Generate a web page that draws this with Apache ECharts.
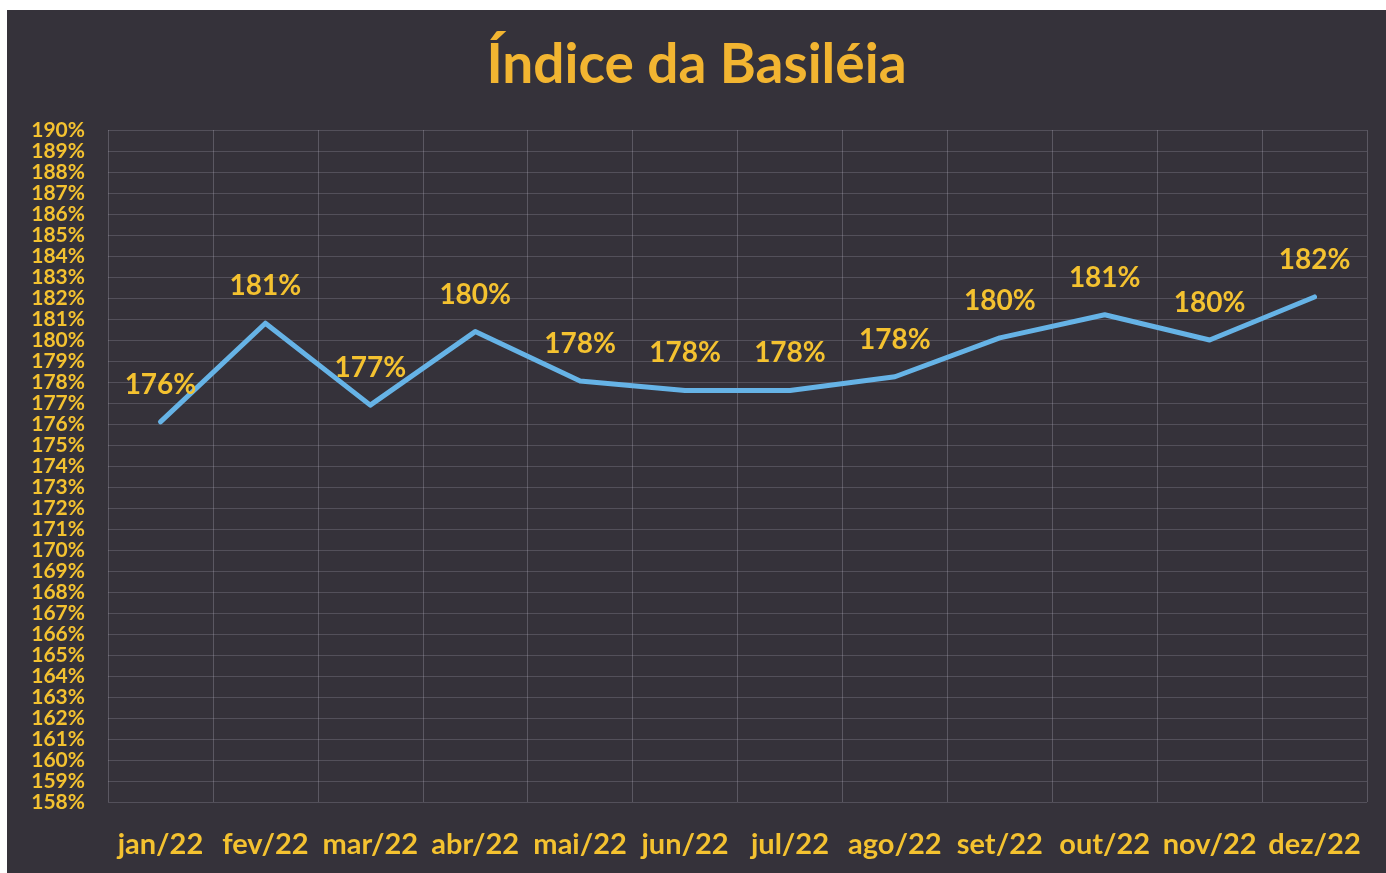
<!DOCTYPE html>
<html>
<head>
<meta charset="utf-8">
<script src="https://cdn.jsdelivr.net/npm/echarts@6/dist/echarts.min.js"></script>
<style>
html,body{margin:0;padding:0;background:#ffffff;}
#wrap{position:absolute;left:7px;top:10px;width:1379px;height:863px;background:#35323a;}
#chart{width:1379px;height:863px;}
</style>
</head>
<body>
<div id="wrap"><div id="chart"></div></div>
<script>
const titleText = 'Índice da Basiléia';
const categories = ['jan/22','fev/22','mar/22','abr/22','mai/22','jun/22','jul/22','ago/22','set/22','out/22','nov/22','dez/22'];
const values = [176.1, 180.8, 176.9, 180.4, 178.05, 177.6, 177.6, 178.25, 180.1, 181.2, 180.0, 182.05];
const yMin = 158, yMax = 190, yStep = 1;

const gold = '#f4c230';
const chart = echarts.init(document.getElementById('chart'), null, {renderer:'canvas'});
chart.setOption({
  backgroundColor: 'transparent',
  animation: false,
  title: {
    text: titleText, left: 'center', top: 23,
    textStyle: {color: '#f2b531', fontSize: 55, fontWeight: 'bold', fontFamily: 'Lato'}
  },
  grid: {left: 101, right: 19, top: 120, bottom: 71},
  xAxis: {
    type: 'category', data: categories, boundaryGap: true,
    axisLine: {show: false}, axisTick: {show: false},
    axisLabel: {color: gold, fontSize: 29, fontWeight: 'bold', fontFamily: 'Lato', margin: 28, interval: 0},
    splitLine: {show: true, interval: 0, lineStyle: {color: 'rgba(190,185,205,0.28)', width: 1}}
  },
  yAxis: {
    type: 'value', min: yMin, max: yMax, interval: yStep,
    axisLine: {show: false}, axisTick: {show: false},
    axisLabel: {color: gold, fontSize: 21, fontWeight: 'bold', fontFamily: 'Lato', margin: 23, lineHeight: 20,
      showMinLabel: true, showMaxLabel: true, hideOverlap: false, formatter: '{value}%'},
    splitLine: {show: true, lineStyle: {color: 'rgba(190,185,205,0.22)', width: 1}}
  },
  series: [{
    type: 'line', data: values, symbol: 'circle', symbolSize: 2, showSymbol: true,
    itemStyle: {color: 'rgba(0,0,0,0)', borderWidth: 0},
    lineStyle: {color: '#66b3e6', width: 5, cap: 'round', join: 'round'},
    label: {show: true, position: 'top', distance: 22, color: gold, fontSize: 28, fontWeight: 'bold', fontFamily: 'Lato',
      formatter: function (p) { return Math.round(p.value) + '%'; }}
  }]
});
</script>
</body>
</html>
